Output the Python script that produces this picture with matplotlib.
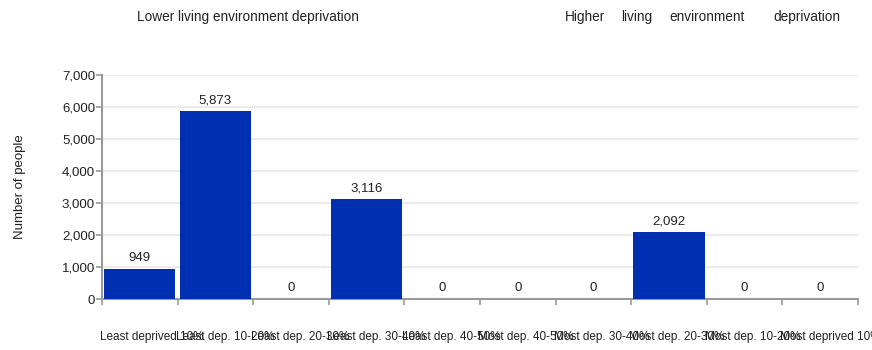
"""
Living environment deprivation deciles - bar chart of number of people.
"""
import numpy as np
import matplotlib.pyplot as plt
import matplotlib.transforms as mtransforms
from matplotlib.ticker import FuncFormatter

plt.rcParams['font.family'] = ['Liberation Sans', 'DejaVu Sans']

deciles = ["Least deprived 10%", "Least dep. 10-20%", "Least dep. 20-30%",
           "Least dep. 30-40%", "Least dep. 40-50%", "Most dep. 40-50%",
           "Most dep. 30-40%", "Most dep. 20-30%", "Most dep. 10-20%",
           "Most deprived 10%"]
people = [949, 5873, 0, 3116, 0, 0, 0, 2092, 0, 0]
y_ticks = [0, 1000, 2000, 3000, 4000, 5000, 6000, 7000]

bar_colour = '#002fb2'
axis_colour = '#9a9a9a'

fig = plt.figure(figsize=(8.72, 3.5), dpi=100)
ax = fig.add_axes([102 / 872, 1 - 299 / 350, 756 / 872, 224 / 350])

x = np.arange(len(deciles))
bars = ax.bar(x, people, width=0.94, color=bar_colour, zorder=3)

for xi, val in zip(x, people):
    ax.annotate(f"{val:,}", (xi, val), xytext=(0, 3.5), textcoords='offset points',
                ha='center', va='bottom', fontsize=9.5, color='#222222', zorder=4)

ax.set_xlim(-0.5, len(deciles) - 0.5)
ax.set_ylim(0, 7000)
ax.set_yticks(y_ticks)
ax.yaxis.set_major_formatter(FuncFormatter(lambda v, p: f"{int(v):,}"))
ax.grid(axis='y', color='#ececec', linewidth=1.5, zorder=0)

# ticks on the slot boundaries, each category label starts at its slot's left edge
ax.set_xticks(np.arange(len(deciles) + 1) - 0.5)
ax.set_xticklabels(deciles + [""], fontsize=8.5, color='#222222', ha='left')
ax.tick_params(axis='x', length=4, color=axis_colour, width=1.2, pad=19)
shift = mtransforms.ScaledTranslation(-2 / 100, 0, fig.dpi_scale_trans)
for lab in ax.get_xticklabels():
    lab.set_transform(lab.get_transform() + shift)
ax.tick_params(axis='y', length=4, color=axis_colour, width=1.2, pad=1,
               labelsize=9.5, labelcolor='#222222')

for side in ('top', 'right'):
    ax.spines[side].set_visible(False)
for side in ('left', 'bottom'):
    ax.spines[side].set_color(axis_colour)
    ax.spines[side].set_linewidth(1.5)

ax.set_ylabel("Number of people", fontsize=9.5, color='#222222', labelpad=26)

# direction headers above the plot
fig.text(137 / 872, 1 - 17 / 350, "Lower living environment deprivation",
         ha='left', va='center', fontsize=9.8, color='#222222')
for word, xpos in [("Higher", 565), ("living", 621), ("environment", 669),
                   ("deprivation", 773)]:
    fig.text(xpos / 872, 1 - 17 / 350, word, ha='left', va='center',
             fontsize=9.8, color='#222222')

fig.savefig("out.png", dpi=100)
